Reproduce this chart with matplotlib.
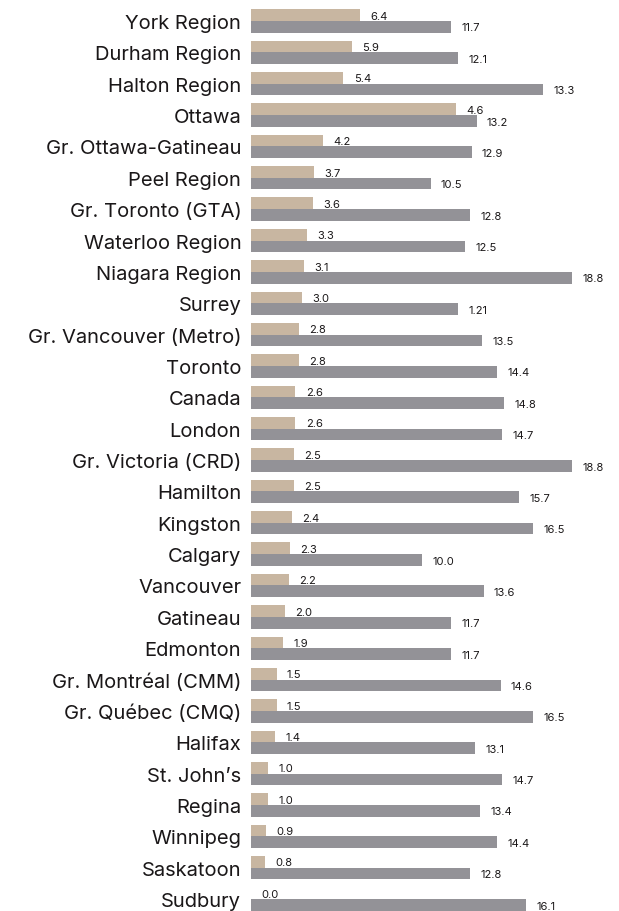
import numpy as np
import matplotlib
matplotlib.use("Agg")
import matplotlib.pyplot as plt

# categories, top to bottom
cities = ["York Region", "Durham Region", "Halton Region", "Ottawa",
          "Gr. Ottawa-Gatineau", "Peel Region", "Gr. Toronto (GTA)",
          "Waterloo Region", "Niagara Region", "Surrey",
          "Gr. Vancouver (Metro)", "Toronto", "Canada", "London",
          "Gr. Victoria (CRD)", "Hamilton", "Kingston", "Calgary",
          "Vancouver", "Gatineau", "Edmonton", "Gr. Montréal (CMM)",
          "Gr. Québec (CMQ)", "Halifax", "St. John’s", "Regina",
          "Winnipeg", "Saskatoon", "Sudbury"]

# bar lengths as drawn in the picture
beige_vals = [6.4, 5.9, 5.4, 12.0, 4.2, 3.7, 3.6, 3.3, 3.1, 3.0,
              2.8, 2.8, 2.6, 2.6, 2.5, 2.5, 2.4, 2.3, 2.2, 2.0,
              1.9, 1.5, 1.5, 1.4, 1.0, 1.0, 0.9, 0.8, 0.0]
gray_vals = [11.7, 12.1, 17.1, 13.2, 12.9, 10.5, 12.8, 12.5, 18.8, 12.1,
             13.5, 14.4, 14.8, 14.7, 18.8, 15.7, 16.5, 10.0, 13.6, 11.7,
             11.7, 14.6, 16.5, 13.1, 14.7, 13.4, 14.4, 12.8, 16.1]

# value labels as printed
beige_labels = ["6.4", "5.9", "5.4", "4.6", "4.2", "3.7", "3.6", "3.3", "3.1", "3.0",
                "2.8", "2.8", "2.6", "2.6", "2.5", "2.5", "2.4", "2.3", "2.2", "2.0",
                "1.9", "1.5", "1.5", "1.4", "1.0", "1.0", "0.9", "0.8", "0.0"]
gray_labels = ["11.7", "12.1", "13.3", "13.2", "12.9", "10.5", "12.8", "12.5", "18.8", "1.21",
               "13.5", "14.4", "14.8", "14.7", "18.8", "15.7", "16.5", "10.0", "13.6", "11.7",
               "11.7", "14.6", "16.5", "13.1", "14.7", "13.4", "14.4", "12.8", "16.1"]

BEIGE = "#c8b6a1"
GRAY = "#939297"
TEXT = "#1a1718"

plt.rcParams["font.family"] = ["Inter", "DejaVu Sans"]

fig = plt.figure(figsize=(6.19, 9.12), dpi=100)
ax = fig.add_axes([251 / 619, 0, 1 - 251 / 619, 1])

y = np.arange(len(cities))
h = 0.373
ax.barh(y - h / 2, beige_vals, height=h, color=BEIGE)
ax.barh(y + h / 2, gray_vals, height=h, color=GRAY)

for i in range(len(cities)):
    ax.text(beige_vals[i] + 0.6, y[i] - h / 2 + 0.02, beige_labels[i],
            va="center", ha="left", fontsize=8, color=TEXT)
    ax.text(gray_vals[i] + 0.6, y[i] + h / 2 + 0.02, gray_labels[i],
            va="center", ha="left", fontsize=8, color=TEXT)

ax.set_xlim(0, (619 - 251) / 17.1)
ax.set_ylim((912 - 22) / 31.36, -22 / 31.36)
ax.set_yticks(y)
ax.set_yticklabels(cities, fontsize=14.5, color=TEXT)
ax.tick_params(axis="y", length=0, pad=7)
ax.set_xticks([])
for s in ax.spines.values():
    s.set_visible(False)

fig.savefig("out.png", dpi=100)
